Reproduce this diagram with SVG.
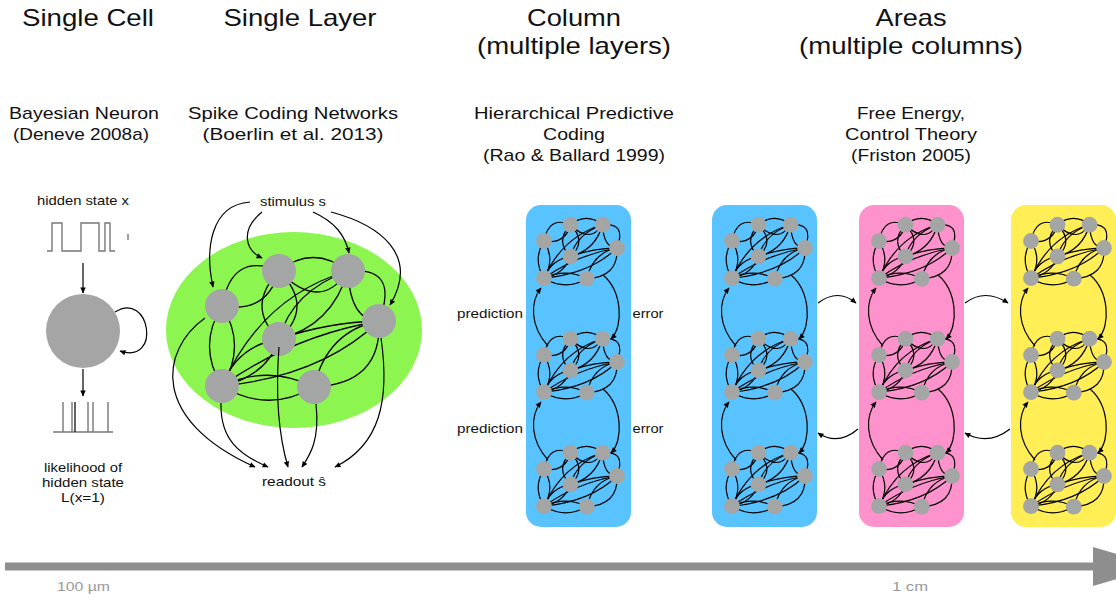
<svg xmlns="http://www.w3.org/2000/svg" width="1116" height="600" viewBox="0 0 1116 600">
<style>
text{font-family:"Liberation Sans",Arial,Helvetica,sans-serif;fill:#111}
.t{font-size:24px;text-anchor:middle}
.s{font-size:17px;text-anchor:middle}
.l{font-size:13px;text-anchor:middle}
.g{font-size:13px;fill:#999}
.c{fill:none;stroke:#000;stroke-width:1.2}
.w{fill:none;stroke:#777;stroke-width:1.4}
</style>
<defs>
<marker id="ah" viewBox="0 0 10 10" refX="9" refY="5" markerWidth="7" markerHeight="6" orient="auto" markerUnits="userSpaceOnUse"><path d="M0,0.5 L10,5 L0,9.5 z" fill="#000"/></marker>
<g id="net">
<g fill="none" stroke="#000">
<path d="M0,0 Q10,-55 57,-35"/>
<path d="M0,0 Q45,8 57,-35"/>
<path d="M57,-35 Q91,-62 126,-35"/>
<path d="M57,-35 Q98,7 126,-35"/>
<path d="M57,-35 Q23,1 57,33"/>
<path d="M57,-35 Q93,1 57,33"/>
<path d="M126,-35 Q110,20 57,33"/>
<path d="M126,-35 Q70,-15 57,33"/>
<path d="M126,-35 Q178,-40 157,15"/>
<path d="M126,-35 Q128,15 157,15"/>
<path d="M0,0 Q-25,40 0,80"/>
<path d="M0,0 Q25,40 0,80"/>
<path d="M0,80 Q15,40 57,33"/>
<path d="M0,80 Q45,70 57,33"/>
<path d="M0,80 Q46,58 92,81"/>
<path d="M0,80 Q46,108 92,81"/>
<path d="M0,80 Q70,30 157,15"/>
<path d="M0,80 Q100,70 157,15"/>
<path d="M57,33 Q107,16 157,15"/>
<path d="M92,81 Q160,78 157,15"/>
<path d="M92,81 Q105,25 157,15"/>
<path d="M0,80 Q40,-10 126,-35"/>
</g>
<g fill="#a4a6a5">
<circle cx="0" cy="0" r="17"/>
<circle cx="57" cy="-35" r="17"/>
<circle cx="126" cy="-35" r="17"/>
<circle cx="157" cy="15" r="17"/>
<circle cx="57" cy="33" r="17"/>
<circle cx="0" cy="80" r="17"/>
<circle cx="92" cy="81" r="17"/>
</g>
</g>
</defs>
<rect width="1116" height="600" fill="#fff"/>

<g id="titles">
<text class="t" x="88" y="26" textLength="132" lengthAdjust="spacingAndGlyphs">Single Cell</text>
<text class="t" x="300" y="26" textLength="153" lengthAdjust="spacingAndGlyphs">Single Layer</text>
<text class="t" x="574" y="26" textLength="94" lengthAdjust="spacingAndGlyphs">Column</text>
<text class="t" x="574" y="54" textLength="194" lengthAdjust="spacingAndGlyphs">(multiple layers)</text>
<text class="t" x="911" y="26" textLength="71" lengthAdjust="spacingAndGlyphs">Areas</text>
<text class="t" x="911" y="54" textLength="224" lengthAdjust="spacingAndGlyphs">(multiple columns)</text>
<text class="s" x="84" y="119" textLength="150" lengthAdjust="spacingAndGlyphs">Bayesian Neuron</text>
<text class="s" x="81" y="140" textLength="136" lengthAdjust="spacingAndGlyphs">(Deneve 2008a)</text>
<text class="s" x="293" y="119" textLength="210" lengthAdjust="spacingAndGlyphs">Spike Coding Networks</text>
<text class="s" x="293" y="140" textLength="181" lengthAdjust="spacingAndGlyphs">(Boerlin et al. 2013)</text>
<text class="s" x="574" y="119" textLength="200" lengthAdjust="spacingAndGlyphs">Hierarchical Predictive</text>
<text class="s" x="574" y="140" textLength="62" lengthAdjust="spacingAndGlyphs">Coding</text>
<text class="s" x="574" y="161" textLength="182" lengthAdjust="spacingAndGlyphs">(Rao &amp; Ballard 1999)</text>
<text class="s" x="911" y="119" textLength="108" lengthAdjust="spacingAndGlyphs">Free Energy,</text>
<text class="s" x="911" y="140" textLength="132" lengthAdjust="spacingAndGlyphs">Control Theory</text>
<text class="s" x="911" y="161" textLength="120" lengthAdjust="spacingAndGlyphs">(Friston 2005)</text>
</g>

<g id="single-cell">
<text class="l" x="83" y="205" textLength="92" lengthAdjust="spacingAndGlyphs">hidden state x</text>
<path class="w" d="M47,251 H52 V223 H62 V251 H81 V223 H99 V251 H105 V223 H110 V251 H115"/>
<path class="w" d="M128,234 V240"/>
<circle cx="83" cy="331" r="37" fill="#a5a5a5"/>
<path class="w" d="M53,432 H113 M63,432 V402 M72,432 V402 M88,432 V402 M93,432 V402 M108,432 V402"/>
<path d="M75,432 V402" stroke="#222" stroke-width="1.4"/>
<text class="l" x="83" y="472" textLength="78" lengthAdjust="spacingAndGlyphs">likelihood of</text>
<text class="l" x="83" y="487" textLength="82" lengthAdjust="spacingAndGlyphs">hidden state</text>
<text class="l" x="83" y="502" textLength="44" lengthAdjust="spacingAndGlyphs">L(x=1)</text>
</g>

<g id="single-layer">
<ellipse cx="294" cy="330" rx="128" ry="98" fill="#8cf550"/>
<use href="#net" transform="translate(222,306)" stroke-width="1.3"/>
<text class="l" x="293" y="206" textLength="66" lengthAdjust="spacingAndGlyphs">stimulus s</text>
<text class="l" x="294" y="486" textLength="64" lengthAdjust="spacingAndGlyphs">readout ŝ</text>
</g>

<g id="column">
<rect x="526" y="205" width="105" height="322" rx="15" fill="#58c3fe"/>
<use href="#net" transform="translate(544,241) scale(0.465)" stroke-width="2.6"/>
<use href="#net" transform="translate(544,355) scale(0.465)" stroke-width="2.6"/>
<use href="#net" transform="translate(544,469) scale(0.465)" stroke-width="2.6"/>
<text class="l" x="490" y="318" textLength="66" lengthAdjust="spacingAndGlyphs">prediction</text>
<text class="l" x="648" y="318" textLength="31" lengthAdjust="spacingAndGlyphs">error</text>
<text class="l" x="490" y="433" textLength="66" lengthAdjust="spacingAndGlyphs">prediction</text>
<text class="l" x="648" y="433" textLength="31" lengthAdjust="spacingAndGlyphs">error</text>
</g>

<g id="area-blue">
<rect x="712" y="205" width="105" height="322" rx="15" fill="#58c3fe"/>
<use href="#net" transform="translate(732,241) scale(0.465)" stroke-width="2.6"/>
<use href="#net" transform="translate(732,355) scale(0.465)" stroke-width="2.6"/>
<use href="#net" transform="translate(732,469) scale(0.465)" stroke-width="2.6"/>
</g>
<g id="area-pink">
<rect x="859" y="205" width="105" height="322" rx="15" fill="#fe92cc"/>
<use href="#net" transform="translate(879,241) scale(0.465)" stroke-width="2.6"/>
<use href="#net" transform="translate(879,355) scale(0.465)" stroke-width="2.6"/>
<use href="#net" transform="translate(879,469) scale(0.465)" stroke-width="2.6"/>
</g>
<g id="area-yellow">
<rect x="1011" y="205" width="105" height="322" rx="15" fill="#ffee55"/>
<use href="#net" transform="translate(1031,241) scale(0.465)" stroke-width="2.6"/>
<use href="#net" transform="translate(1031,355) scale(0.465)" stroke-width="2.6"/>
<use href="#net" transform="translate(1031,469) scale(0.465)" stroke-width="2.6"/>
</g>

<g id="connectors" class="c" marker-end="url(#ah)">
<path d="M83,263 V293"/>
<path d="M83,369 V396"/>
<path d="M115,312 C150,290 162,365 120,351"/>
<path d="M250,202 C210,205 205,250 213,287"/>
<path d="M262,212 C240,230 245,250 262,258"/>
<path d="M313,212 C335,222 345,235 349,253"/>
<path d="M331,212 C380,225 420,255 390,305"/>
<path d="M205,318 C160,350 150,420 255,467"/>
<path d="M221,403 C220,440 240,455 268,467"/>
<path d="M279,347 C275,400 280,440 288,467"/>
<path d="M316,404 C320,440 310,455 302,467"/>
<path d="M381,338 C390,400 380,445 335,467"/>
<path d="M548,346 C530,326 530,302 541,288"/>
<path d="M603,275 C622,291 624,326 611,339"/>
<path d="M548,460 C530,440 530,416 541,402"/>
<path d="M603,389 C622,405 624,440 611,453"/>
<path d="M736,346 C718,326 718,302 729,288"/>
<path d="M791,275 C810,291 812,326 799,339"/>
<path d="M736,460 C718,440 718,416 729,402"/>
<path d="M791,389 C810,405 812,440 799,453"/>
<path d="M883,346 C865,326 865,302 876,288"/>
<path d="M938,275 C957,291 959,326 946,339"/>
<path d="M883,460 C865,440 865,416 876,402"/>
<path d="M938,389 C957,405 959,440 946,453"/>
<path d="M1035,346 C1017,326 1017,302 1028,288"/>
<path d="M1090,275 C1109,291 1111,326 1098,339"/>
<path d="M1035,460 C1017,440 1017,416 1028,402"/>
<path d="M1090,389 C1109,405 1111,440 1098,453"/>
<path d="M818,303 Q838,288 856,303"/>
<path d="M965,303 Q985,288 1008,303"/>
<path d="M858,429 Q838,446 818,433"/>
<path d="M1010,429 Q988,446 965,433"/>
</g>

<g id="scale-axis">
<path d="M5,566.5 H1096" stroke="#8e8e8e" stroke-width="8"/>
<polygon points="1093,547 1093,586 1160,566.5" fill="#8e8e8e"/>
<text class="g" x="57" y="591" textLength="53" lengthAdjust="spacingAndGlyphs">100 µm</text>
<text class="g" x="892" y="591" textLength="36" lengthAdjust="spacingAndGlyphs">1 cm</text>
</g>
</svg>
